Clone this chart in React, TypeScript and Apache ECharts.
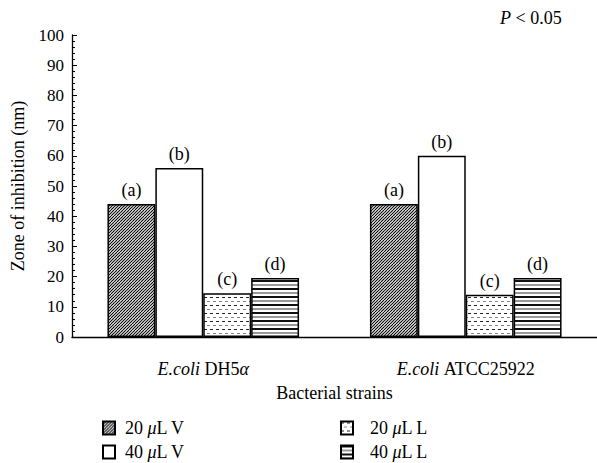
import React, { useEffect, useRef } from "react";
import * as echarts from "echarts";

const categories = ["E.coli DH5α", "E.coli ATCC25922"];
const seriesNames = ["20 μL V", "40 μL V", "20 μL L", "40 μL L"];
const barLabels = ["(a)", "(b)", "(c)", "(d)"];
const v20 = [44, 44];
const v40 = [56, 60];
const l20 = [14.5, 14];
const l40 = [19.5, 19.5];
const seriesValues = [v20, v40, l20, l40];

const FONT = "'Liberation Serif', 'DejaVu Serif', serif";
const FS = 18;

function makePattern(kind: string): any {
  const c = document.createElement("canvas");
  let w = 6, h = 6;
  if (kind === "diag") { w = 6; h = 6; }
  if (kind === "dash") { w = 6; h = 8; }
  if (kind === "hstripe") { w = 4; h = 8; }
  c.width = w; c.height = h;
  const ctx = c.getContext("2d")!;
  ctx.fillStyle = "#fff";
  ctx.fillRect(0, 0, w, h);
  if (kind === "diag") {
    ctx.strokeStyle = "#000";
    ctx.lineWidth = 1.1;
    for (let k = -9; k <= 12; k += 3) {
      ctx.beginPath();
      ctx.moveTo(k, h);
      ctx.lineTo(k + h, 0);
      ctx.stroke();
    }
  } else if (kind === "dash") {
    ctx.fillStyle = "#222";
    ctx.fillRect(0, 1, 3, 1);
    ctx.fillStyle = "#888";
    ctx.fillRect(3, 5, 3, 1);
  } else if (kind === "hstripe") {
    ctx.fillStyle = "#111";
    ctx.fillRect(0, 0, w, 2);
    ctx.fillStyle = "#999";
    ctx.fillRect(0, 4, w, 2);
  }
  return { image: c.toDataURL(), repeat: "repeat", imageWidth: w, imageHeight: h };
}

export default function App() {
  const ref = useRef<HTMLDivElement>(null);
  useEffect(() => {
    if (!ref.current) return;
    const chart = echarts.init(ref.current, null, { renderer: "svg" });
    const fills = [makePattern("diag"), "#ffffff", makePattern("dash"), makePattern("hstripe")];
    const rich = {
      n: { fontFamily: FONT, fontSize: FS, color: "#000" },
      i: { fontFamily: FONT, fontSize: FS, color: "#000", fontStyle: "italic" },
    };
    const legendFormatter = (name: string) =>
      name.split("μ").map((p, idx) => (idx === 0 ? `{n|${p}}` : `{i|μ}{n|${p}}`)).join("");
    const legendCommon = {
      orient: "vertical",
      top: 419,
      height: 60,
      padding: 0,
      itemGap: 6,
      itemWidth: 12,
      itemHeight: 13,
      icon: "rect",
      formatter: legendFormatter,
    };
    chart.setOption({
      animation: false,
      backgroundColor: "#fff",
      grid: { left: 72, right: -3, top: 35, bottom: 126 },
      xAxis: {
        type: "category",
        data: categories,
        axisLine: { lineStyle: { color: "#000", width: 1.3 } },
        axisTick: { show: false },
        axisLabel: {
          margin: 23,
          formatter: (v: string) =>
            v.replace("E.coli", "{i|E.coli}").replace(/ (\S+)$/, " {n|$1}").replace("α}", "}{i|α}"),
          rich,
          fontFamily: FONT,
          fontSize: FS,
          color: "#000",
        },
        name: "Bacterial strains",
        nameLocation: "middle",
        nameGap: 47,
        nameTextStyle: { fontFamily: FONT, fontSize: FS, color: "#000" },
      },
      yAxis: {
        type: "value",
        min: 0,
        max: 100,
        interval: 10,
        splitLine: { show: false },
        axisLine: { show: true, lineStyle: { color: "#000", width: 1.3 } },
        axisTick: { show: true, inside: true, length: 5, lineStyle: { color: "#000" } },
        minorTick: { show: true, splitNumber: 5, length: 3, lineStyle: { color: "#000" } },
        axisLabel: { fontFamily: FONT, fontSize: 17, color: "#000", margin: 8 },
        name: "Zone of inhibition (nm)",
        nameLocation: "middle",
        nameGap: 45,
        nameTextStyle: { fontFamily: FONT, fontSize: FS, color: "#000" },
      },
      legend: [
        {
          ...legendCommon,
          left: 102,
          data: [seriesNames[0], seriesNames[1]],
          textStyle: { fontFamily: FONT, fontSize: FS, color: "#000", rich, padding: [0, 0, 0, 5] },
        },
        {
          ...legendCommon,
          left: 340,
          data: [seriesNames[2], seriesNames[3]],
          textStyle: { fontFamily: FONT, fontSize: FS, color: "#000", rich, padding: [0, 0, 0, 12] },
        },
      ],
      graphic: [
        {
          type: "text",
          left: 500,
          top: 9,
          style: {
            text: "{i|P} {n|< 0.05}",
            rich,
            fontFamily: FONT,
            fontSize: FS,
            fill: "#000",
          },
        },
      ],
      series: seriesNames.map((name, i) => ({
        type: "bar",
        name,
        data: seriesValues[i],
        barGap: "0%",
        barCategoryGap: "27%",
        itemStyle: { color: fills[i], borderColor: "#000", borderWidth: 1.5 },
        label: {
          show: true,
          position: "top",
          distance: 5,
          formatter: barLabels[i],
          fontFamily: FONT,
          fontSize: FS,
          color: "#000",
        },
      })),
    });
    return () => chart.dispose();
  }, []);
  return <div ref={ref} style={{ width: 597, height: 463, position: "absolute", left: 0, top: 0 }} />;
}
